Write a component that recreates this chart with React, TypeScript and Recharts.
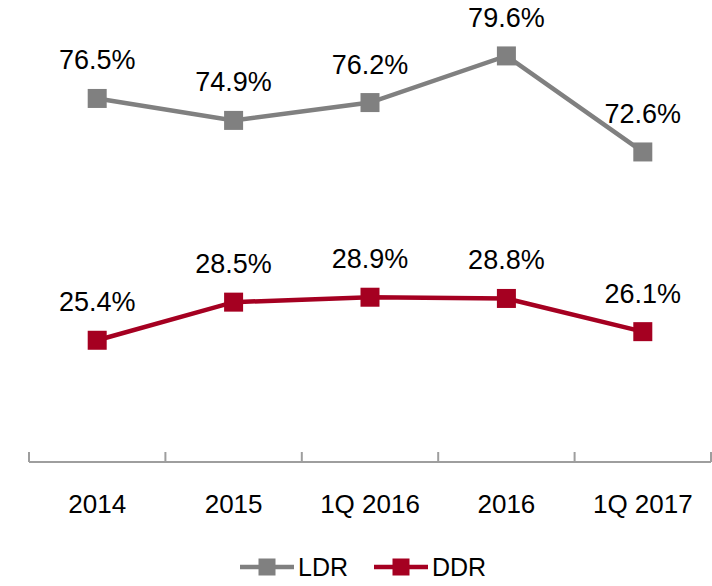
import { LineChart, Line, XAxis, YAxis, LabelList } from "recharts";

const categories = ["2014", "2015", "1Q 2016", "2016", "1Q 2017"];
const ldrValues = [76.5, 74.9, 76.2, 79.6, 72.6];
const ddrValues = [25.4, 28.5, 28.9, 28.8, 26.1];

const data = categories.map((name, i) => ({
  name,
  LDR: ldrValues[i],
  DDR: ddrValues[i],
}));

const GRAY = "#808080";
const RED = "#A50021";
const AXIS = "#9E9E9E";
const FONT = "'Liberation Sans', Arial, sans-serif";

const W = 712;
const H = 540;
const X_AXIS_H = 78;
const M = { top: 23, right: 1, left: 29, bottom: 0 };
const STEP = (W - M.left - M.right) / categories.length;

const SquareDot = (color: string) => (props: any) => {
  const { cx, cy, index } = props;
  if (cx == null || cy == null) return null;
  return <rect key={index} x={cx - 9.5} y={cy - 9.5} width={19} height={19} fill={color} />;
};

const CategoryTick = (props: any) => {
  const { x, y, payload, index } = props;
  const last = index === categories.length - 1;
  return (
    <g>
      <line x1={x - STEP / 2} x2={x - STEP / 2} y1={y - 10} y2={y} stroke={AXIS} strokeWidth={2} />
      {last && (
        <line x1={x + STEP / 2} x2={x + STEP / 2} y1={y - 10} y2={y} stroke={AXIS} strokeWidth={2} />
      )}
      <text x={x} y={y + 51} textAnchor="middle" fontSize={26} fontFamily={FONT} fill="#000">
        {payload.value}
      </text>
    </g>
  );
};

const LegendItem = ({ color, label }: { color: string; label: string }) => (
  <div style={{ display: "flex", alignItems: "center", marginRight: 26 }}>
    <svg width={54} height={20}>
      <line x1={0} x2={54} y1={10} y2={10} stroke={color} strokeWidth={4.5} />
      <rect x={18.5} y={1.5} width={17} height={17} fill={color} />
    </svg>
    <span style={{ fontFamily: FONT, fontSize: 25, color: "#000", marginLeft: 4, lineHeight: "20px" }}>
      {label}
    </span>
  </div>
);

const pct = (v: any) => `${Number(v).toFixed(1)}%`;

export default function App() {
  return (
    <div style={{ position: "absolute", left: 0, top: 0, width: W, height: 586, background: "#fff" }}>
      <LineChart width={W} height={H} data={data} margin={M}>
        <XAxis
          dataKey="name"
          axisLine={{ stroke: AXIS, strokeWidth: 2 }}
          tickLine={false}
          tickSize={0}
          tickMargin={0}
          tick={<CategoryTick />}
          interval={0}
          height={X_AXIS_H}
          padding={{ left: STEP / 2, right: STEP / 2 }}
        />
        <YAxis yAxisId="ldr" hide domain={[50, 82]} />
        <YAxis yAxisId="ddr" hide domain={[15.5, 51.2]} />
        <Line
          yAxisId="ldr"
          dataKey="LDR"
          stroke={GRAY}
          strokeWidth={4.5}
          dot={SquareDot(GRAY)}
          activeDot={false}
          isAnimationActive={false}
        >
          <LabelList
            dataKey="LDR"
            position="top"
            offset={29}
            formatter={pct}
            style={{ fontSize: 27, fontFamily: FONT, fill: "#000" }}
          />
        </Line>
        <Line
          yAxisId="ddr"
          dataKey="DDR"
          stroke={RED}
          strokeWidth={4.5}
          dot={SquareDot(RED)}
          activeDot={false}
          isAnimationActive={false}
        >
          <LabelList
            dataKey="DDR"
            position="top"
            offset={29}
            formatter={pct}
            style={{ fontSize: 27, fontFamily: FONT, fill: "#000" }}
          />
        </Line>
      </LineChart>
      <div
        style={{
          position: "absolute",
          top: 557,
          left: 240,
          display: "flex",
        }}
      >
        <LegendItem color={GRAY} label="LDR" />
        <LegendItem color={RED} label="DDR" />
      </div>
    </div>
  );
}
